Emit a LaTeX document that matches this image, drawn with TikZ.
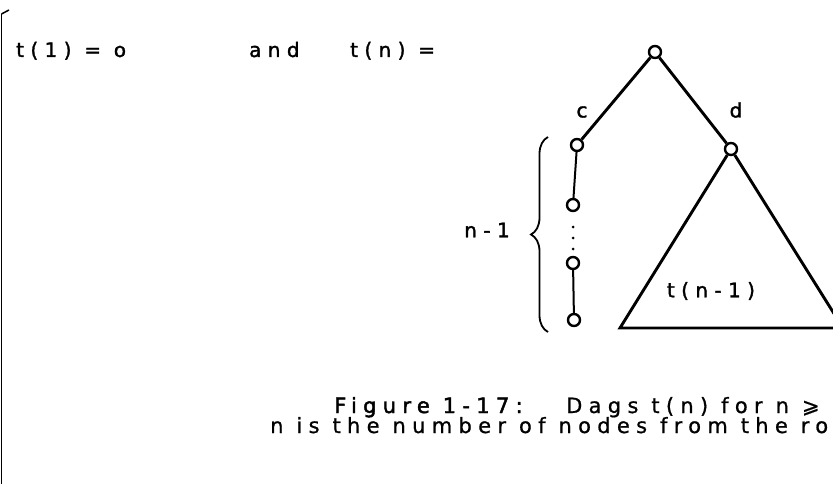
\documentclass[tikz,border=0pt]{standalone}
\usepackage{fontspec}
\setmainfont{DejaVu Sans}
\newfontfamily\figfont[LetterSpace=32,FakeBold=1.6]{DejaVu Sans}
\newfontfamily\capfont[LetterSpace=30,FakeBold=0.8]{DejaVu Sans}
\newfontfamily\capfontb[LetterSpace=30,FakeBold=2]{DejaVu Sans}
\usetikzlibrary{decorations.pathreplacing}
\begin{document}
\begin{tikzpicture}[x=1pt,y=-1pt,
  vtx/.style={circle,draw,line width=2.4pt,inner sep=0pt,minimum size=12pt},
  dotv/.style={circle,fill,inner sep=0pt,minimum size=3pt},
  figtxt/.style={inner sep=0pt,anchor=base west,font=\figfont\fontsize{20}{22}\selectfont},
  captxt/.style={inner sep=0pt,anchor=base west,font=\capfont\fontsize{21}{23}\selectfont},
  edge/.style={line width=2.9pt},
  thin edge/.style={line width=2pt}]
\useasboundingbox (0,0) rectangle (833,484);
\clip (0,0) rectangle (833,484);
% scan border
\draw[line width=1.5pt] (1.5,14) -- (1.5,484);
\draw[line width=1.5pt] (1.5,14) -- (9,10);
% top texts
\node[figtxt] (t1) at (16,57) {t(1) = o};
\node[figtxt] (and) at (249,57) {and};
\node[figtxt] (tn) at (350,57) {t(n) =};
% tree
\node[vtx] (root) at (655,52) {};
\node[vtx] (c) at (577,145) {};
\node[vtx] (d) at (731,149) {};
\node[vtx] (v2) at (573,205) {};
\node[vtx] (v3) at (573,263) {};
\node[vtx] (v4) at (574,320) {};
\node[dotv] (p1) at (573,227) {};
\node[dotv] (p2) at (573,238) {};
\node[dotv] (p3) at (573,249) {};
\node[figtxt,anchor=center] (cl) at (582,112) {c};
\node[figtxt,anchor=center] (dl) at (736,110) {d};
\draw[edge] (root) -- (c);
\draw[edge] (root) -- (d);
\draw[thin edge] (c) -- (v2);
\draw[thin edge] (v3) -- (v4);
% triangle t(n-1)
\coordinate (bl) at (620,328);
\coordinate (br) at (843,328);
\draw[edge,line join=miter] (d) -- (bl) -- (br) -- (d);
\node[figtxt,anchor=center] (tsub) at (711,291) {t(n-1)};
% brace
\coordinate (bb) at (548,332);
\coordinate (bt) at (548,137);
\draw[line width=1.8pt,decorate,decoration={brace,amplitude=17pt}] (bb) -- (bt);
\node[figtxt,anchor=center] (nl) at (487,230) {n-1};
% caption
\node[captxt,font=\capfontb\fontsize{21}{23}\selectfont] (fig) at (334,413) {Figure 1-17:};
\node[captxt] (cap1) at (566,413) {Dags t(n) for n ⩾};
\node[captxt] (cap2) at (270,433) {n is the number of nodes from the ro};
\end{tikzpicture}
\end{document}
